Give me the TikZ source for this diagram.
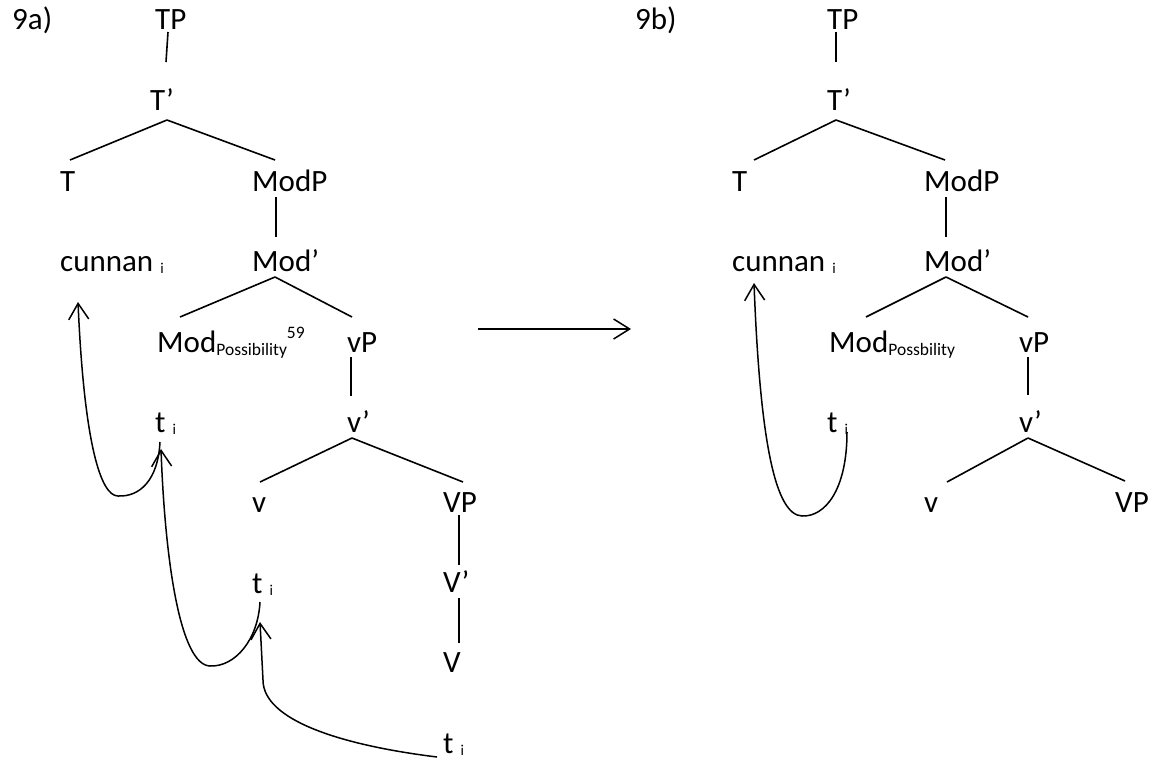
\documentclass[tikz,border=0pt]{standalone}
\usepackage{fontspec}
\setmainfont{Carlito}
\usetikzlibrary{arrows.meta}

\newcommand\catfont{\fontsize{31}{36}\selectfont}
\newcommand\lowi{\raisebox{-2pt}{\fontsize{15}{15}\selectfont i}}
\newcommand\lowsub[1]{\raisebox{-3pt}{\fontsize{17.5}{17.5}\selectfont #1}}
\newcommand\fnmark[1]{\raisebox{14pt}{\fontsize{17.5}{17.5}\selectfont #1}}

\tikzset{
  cat/.style={anchor=base west, inner sep=0pt, font=\catfont},
  branch/.style={line width=1.6pt},
  move/.style={line width=1.5pt, -{Straight Barb[length=16pt,width=20pt]}},
}

\begin{document}
\begin{tikzpicture}[x=1pt,y=-1pt]
    \useasboundingbox (0,0) rectangle (1153,760);

    % 左边的树 9a)
    \node[cat] (lblA) at (12,30) {9a)};
    \node[cat] (aTP) at (155,30) {TP};
    \node[cat] (aTb) at (150,110) {T’};
    \node[cat] (aT) at (60,191) {T};
    \node[cat] (aModP) at (252,191) {ModP};
    \node[cat] (aCun) at (60,271) {cunnan \lowi};
    \node[cat] (aModb) at (252,271) {Mod’};
    \node[cat] (aPoss) at (157,352) {Mod\lowsub{Possibility}\fnmark{59}};
    \node[cat] (avP) at (347,352) {vP};
    \node[cat] (at1) at (155,432) {t \lowi};
    \node[cat] (avb) at (347,432) {v’};
    \node[cat] (av) at (252,512) {v};
    \node[cat] (aVP) at (443,512) {VP};
    \node[cat] (at2) at (252,593) {t \lowi};
    \node[cat] (aVb) at (443,592) {V’};
    \node[cat] (aV) at (443,672) {V};
    \node[cat] (at3) at (443,753) {t \lowi};

    \draw[branch] ([shift={(13,2)}]aTP.base west) -- ([shift={(16,-48)}]aTb.base west);
    \draw[branch] ([shift={(17,10)}]aTb.base west) -- ([shift={(10,-31)}]aT.base west);
    \draw[branch] ([shift={(17,10)}]aTb.base west) -- ([shift={(23,-31)}]aModP.base west);
    \draw[branch] ([shift={(24,6)}]aModP.base west) -- ([shift={(24,-34)}]aModb.base west);
    \draw[branch] ([shift={(23,6)}]aModb.base west) -- ([shift={(23,-35)}]aPoss.base west);
    \draw[branch] ([shift={(23,6)}]aModb.base west) -- ([shift={(5,-35)}]avP.base west);
    \draw[branch] ([shift={(4,5)}]avP.base west) -- ([shift={(4,-36)}]avb.base west);
    \draw[branch] ([shift={(5,6)}]avb.base west) -- ([shift={(8,-30)}]av.base west);
    \draw[branch] ([shift={(5,6)}]avb.base west) -- ([shift={(20,-30)}]aVP.base west);
    \draw[branch] ([shift={(16,3)}]aVP.base west) -- ([shift={(16,-27)}]aVb.base west);
    \draw[branch] ([shift={(16,6)}]aVb.base west) -- ([shift={(16,-29)}]aV.base west);

    % 移位的箭头
    \draw[move] ([shift={(5,10)}]at1.base west) .. controls (158,480) and (140,497) .. (118,496)
        .. controls (100,496) and (84,440) .. ([shift={(18,31)}]aCun.base west);
    \draw[move] ([shift={(8,9)}]at2.base west) .. controls (258,640) and (235,667) .. (210,666)
        .. controls (180,665) and (165,560) .. ([shift={(6,17)}]at1.base west);
    \draw[move] ([shift={(-6,4)}]at3.base west) .. controls (340,745) and (263,720) .. (263,680)
        -- ([shift={(8,29)}]at2.base west);

    % 中间的箭头
    \coordinate (from) at (478,329);
    \coordinate (to) at (631,329);
    \draw[move] (from) -- (to);

    % 右边的树 9b)
    \node[cat] (lblB) at (635,30) {9b)};
    \node[cat] (bTP) at (827,30) {TP};
    \node[cat] (bTb) at (827,110) {T’};
    \node[cat] (bT) at (732,191) {T};
    \node[cat] (bModP) at (924,191) {ModP};
    \node[cat] (bCun) at (732,271) {cunnan \lowi};
    \node[cat] (bModb) at (924,271) {Mod’};
    \node[cat] (bPoss) at (829,352) {Mod\lowsub{Possbility}};
    \node[cat] (bvP) at (1019,352) {vP};
    \node[cat] (bt1) at (827,432) {t \lowi};
    \node[cat] (bvb) at (1019,432) {v’};
    \node[cat] (bv) at (924,512) {v};
    \node[cat] (bVP) at (1115,512) {VP};

    \draw[branch] ([shift={(9,2)}]bTP.base west) -- ([shift={(9,-48)}]bTb.base west);
    \draw[branch] ([shift={(9,10)}]bTb.base west) -- ([shift={(22,-31)}]bT.base west);
    \draw[branch] ([shift={(9,10)}]bTb.base west) -- ([shift={(21,-31)}]bModP.base west);
    \draw[branch] ([shift={(22,6)}]bModP.base west) -- ([shift={(22,-34)}]bModb.base west);
    \draw[branch] ([shift={(22,6)}]bModb.base west) -- ([shift={(37,-35)}]bPoss.base west);
    \draw[branch] ([shift={(22,6)}]bModb.base west) -- ([shift={(9,-35)}]bvP.base west);
    \draw[branch] ([shift={(9,5)}]bvP.base west) -- ([shift={(9,-37)}]bvb.base west);
    \draw[branch] ([shift={(9,6)}]bvb.base west) -- ([shift={(23,-30)}]bv.base west);
    \draw[branch] ([shift={(9,6)}]bvb.base west) -- ([shift={(10,-31)}]bVP.base west);

    \draw[move] ([shift={(20,0)}]bt1.base west) .. controls (847,490) and (825,517) .. (802,516)
        .. controls (775,515) and (760,440) .. ([shift={(22,12)}]bCun.base west);
\end{tikzpicture}
\end{document}
